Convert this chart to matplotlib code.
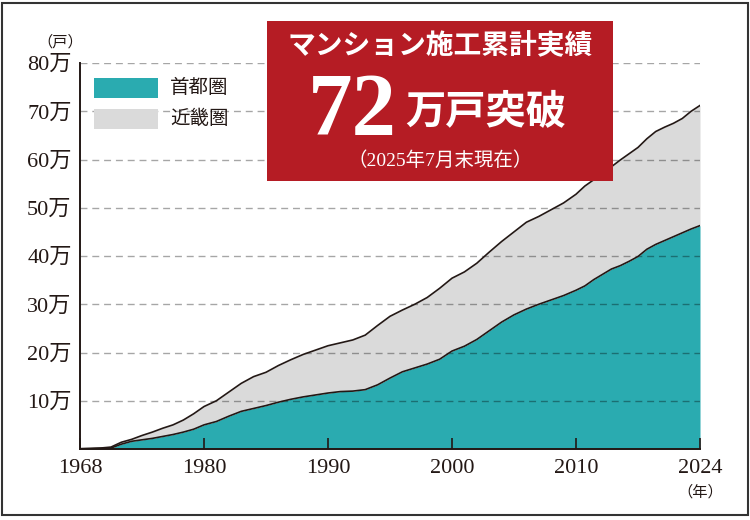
import numpy as np
import matplotlib.pyplot as plt
from matplotlib.patches import Rectangle

plt.rcParams['font.family'] = ['Liberation Serif', 'Noto Sans CJK JP']

# cumulative completed condominium units, in 万戸
years = list(range(1968, 2025))
shuto = [0.05, 0.1, 0.15, 0.2, 1.0, 1.6, 1.9, 2.2, 2.6, 3.0,
         3.5, 4.1, 5.0, 5.7, 6.8, 7.8, 8.4, 9.0, 9.7, 10.3,
         10.8, 11.2, 11.6, 11.9, 12.0, 12.3, 13.3, 14.7, 16.0, 16.8,
         17.6, 18.6, 20.3, 21.3, 22.7, 24.5, 26.3, 27.8, 29.0, 30.0,
         30.9, 31.8, 32.9, 33.8, 35.1, 36.2, 37.3, 38.0, 38.9, 39.9,
         41.4, 42.4, 43.2, 44.0, 44.8, 45.6, 46.3]
total = [0.05, 0.1, 0.2, 0.4, 1.4, 2.0, 2.8, 3.5, 4.3, 5.0,
         6.0, 7.3, 8.8, 10.0, 11.8, 13.6, 15.0, 15.9, 17.3, 18.5,
         19.6, 20.5, 21.4, 22.0, 22.6, 23.6, 25.6, 27.5, 28.8, 30.0,
         31.4, 33.3, 35.4, 36.7, 38.5, 40.8, 43.0, 45.0, 47.0, 48.2,
         49.6, 51.0, 52.8, 54.5, 55.8, 57.3, 58.5, 59.9, 61.2, 62.5,
         64.3, 65.8, 66.7, 67.5, 68.5, 70.0, 71.2]

tick_years = [1968, 1980, 1990, 2000, 2010, 2024]
y_ticks = [10, 20, 30, 40, 50, 60, 70, 80]

teal = '#2aabb0'
grey = '#dadada'
ink = '#231815'

# the x axis puts the labelled years at equal spacing
pos = np.interp(years, tick_years, np.arange(len(tick_years)))

fig = plt.figure(figsize=(7.5, 5.2), dpi=100)
ax = fig.add_axes([80 / 750, 71 / 520, 620 / 750, 386 / 520])

ax.fill_between(pos, 0, shuto, color=teal, lw=0, zorder=1)
ax.fill_between(pos, shuto, total, color=grey, lw=0, zorder=1)
ax.plot(pos, shuto, color=ink, lw=1.2, zorder=3)
ax.plot(pos, total, color=ink, lw=1.2, zorder=3)

for v in y_ticks:
    ax.axhline(v, color='black', alpha=0.35, lw=1.0, ls=(0, (5, 3.5)), zorder=2)

ax.set_xlim(0, len(tick_years) - 1)
ax.set_ylim(0, 80)
ax.set_xticks(np.arange(len(tick_years)))
ax.set_xticklabels([str(y) for y in tick_years])
ax.set_yticks(y_ticks)
ax.set_yticklabels([f'{v}万' for v in y_ticks])
ax.tick_params(axis='x', direction='in', length=8, width=1.2, color=ink,
               labelsize=16, pad=7, labelcolor=ink)
ax.tick_params(axis='y', length=0, labelsize=16, pad=6, labelcolor=ink)
for s in ['top', 'right']:
    ax.spines[s].set_visible(False)
for s in ['left', 'bottom']:
    ax.spines[s].set_color(ink)
    ax.spines[s].set_linewidth(1.4)

fig.text(60 / 750, 1 - 42 / 520, '（戸）', ha='center', va='center', fontsize=11, color=ink)
fig.text(700 / 750, 1 - 492 / 520, '（年）', ha='center', va='center', fontsize=11, color=ink)

# legend
for i, (lab, col) in enumerate([('首都圏', teal), ('近畿圏', grey)]):
    y0 = 78 + i * 31
    fig.add_artist(Rectangle((94 / 750, 1 - (y0 + 20) / 520), 64 / 750, 20 / 520,
                             transform=fig.transFigure, color=col, lw=0))
    fig.text(170 / 750, 1 - (y0 + 10) / 520, lab, ha='left', va='center',
             fontsize=14, color=ink)

# headline box
fig.add_artist(Rectangle((267 / 750, 1 - 181 / 520), 346 / 750, 160 / 520,
                         transform=fig.transFigure, color='#b51c24', lw=0, zorder=4))
fig.text(440 / 750, 1 - 47 / 520, 'マンション施工累計実績', ha='center', va='center',
         fontsize=20, fontweight='bold', color='white', zorder=5)
fig.text(397 / 750, 1 - 134 / 520, '72', ha='right', va='baseline',
         fontsize=64, fontweight='bold', color='white', zorder=5)
fig.text(405 / 750, 1 - 113 / 520, '万戸突破', ha='left', va='center',
         fontsize=29, fontweight='bold', color='white', zorder=5)
fig.text(440 / 750, 1 - 161 / 520, '（2025年7月末現在）', ha='center', va='center',
         fontsize=14, color='white', zorder=5)

# frame
fig.add_artist(Rectangle((2 / 750, 5 / 520), 746 / 750, 512 / 520, transform=fig.transFigure,
                         fill=False, ec='#333333', lw=1.5))

fig.savefig('out.png', dpi=100)
